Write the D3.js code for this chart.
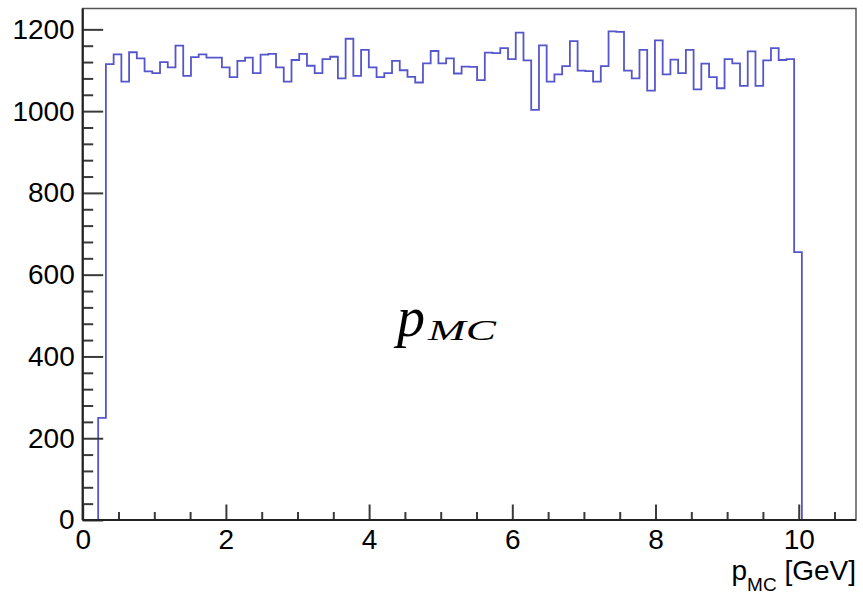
<!DOCTYPE html>
<html>
<head>
<meta charset="utf-8">
<script src="https://cdn.jsdelivr.net/npm/d3@7"></script>
<style>
  body { margin: 0; background: #fff; }
  svg { display: block; }
  .tick text { font-family: "Liberation Sans", Arial, Helvetica, sans-serif; font-size: 28px; fill: #000; }
</style>
</head>
<body>
<svg id="chart" width="863" height="596"></svg>
<script>
// histogram binning (ROOT style TH1: nBins from xMin to xMax)
var xMin = 0, xMax = 10.8, nBins = 100
// bin contents, bin 0 .. bin 99
var counts = [
  0, 0, 250, 1115, 1139, 1072, 1144, 1129, 1097, 1093,
  1120, 1107, 1160, 1086, 1132, 1139, 1131, 1131, 1107, 1083,
  1123, 1131, 1093, 1138, 1140, 1107, 1072, 1125, 1140, 1111,
  1093, 1127, 1133, 1080, 1177, 1086, 1150, 1107, 1083, 1093,
  1123, 1100, 1084, 1070, 1117, 1147, 1117, 1129, 1092, 1109,
  1108, 1076, 1143, 1142, 1154, 1127, 1192, 1124, 1003, 1161,
  1072, 1090, 1110, 1171, 1099, 1098, 1072, 1110, 1195, 1194,
  1099, 1080, 1150, 1050, 1173, 1090, 1126, 1093, 1150, 1053,
  1116, 1083, 1056, 1127, 1117, 1062, 1146, 1062, 1124, 1154,
  1125, 1127, 655, 0, 0, 0, 0, 0, 0, 0
]
var yMax = 1251
var xMajor = [0, 2, 4, 6, 8, 10]
var xMinor = [0.5, 1, 1.5, 2.5, 3, 3.5, 4.5, 5, 5.5, 6.5, 7, 7.5, 8.5, 9, 9.5, 10.5]
var yMajor = [0, 200, 400, 600, 800, 1000, 1200]
var yMinor = [40, 80, 120, 160, 240, 280, 320, 360, 440, 480, 520, 560,
              640, 680, 720, 760, 840, 880, 920, 960, 1040, 1080, 1120, 1160]

function draw() {
    var svg = d3.select('#chart')
    var fl = 82.7, fr = 856, ft = 8.5, fb = 520

    var x = d3.scaleLinear().domain([xMin, xMax]).range([fl, fr])
    var y = d3.scaleLinear().domain([0, yMax]).range([fb, ft])
    var bw = (xMax - xMin) / nBins

    // histogram outline
    var pts = counts.map((c, i) => [xMin + i * bw, c])
    pts.push([xMax, counts[counts.length - 1]])
    var line = d3.line()
        .x(d => x(d[0]))
        .y(d => y(d[1]))
        .curve(d3.curveStepAfter)

    svg.append('path')
        .datum(pts)
        .attr('d', line)
        .attr('fill', 'none')
        .attr('stroke', '#5656cc')
        .attr('stroke-width', 1.8)

    // axes, ticks inside the frame
    function styleTicks(g) {
        g.select('.domain').remove()
        g.selectAll('.tick line').attr('stroke', '#3a3a3a').attr('stroke-width', 2)
    }

    svg.append('g')
        .attr('transform', 'translate(0,' + fb + ')')
        .call(d3.axisBottom(x).tickValues(xMinor).tickSize(-8).tickFormat(''))
        .call(styleTicks)
    svg.append('g')
        .attr('transform', 'translate(0,' + fb + ')')
        .call(d3.axisBottom(x).tickValues(xMajor).tickSize(-15.5).tickPadding(9).tickFormat(d3.format('d')))
        .call(styleTicks)

    svg.append('g')
        .attr('transform', 'translate(' + fl + ',0)')
        .call(d3.axisLeft(y).tickValues(yMinor).tickSize(-10.5).tickFormat(''))
        .call(styleTicks)
    svg.append('g')
        .attr('transform', 'translate(' + fl + ',0)')
        .call(d3.axisLeft(y).tickValues(yMajor).tickSize(-20.5).tickPadding(8).tickFormat(d3.format('d')))
        .call(styleTicks)

    // frame
    svg.append('rect')
        .attr('x', fl).attr('y', ft)
        .attr('width', fr - fl).attr('height', fb - ft)
        .attr('fill', 'none')
        .attr('stroke', '#555')
        .attr('stroke-width', 1.5)
    svg.append('line')
        .attr('x1', fl).attr('x2', fr).attr('y1', fb).attr('y2', fb)
        .attr('stroke', '#222').attr('stroke-width', 2.2)
    svg.append('line')
        .attr('x1', fl).attr('x2', fl).attr('y1', ft).attr('y2', fb)
        .attr('stroke', '#222').attr('stroke-width', 2.2)

    // x axis title
    var title = svg.append('text')
        .attr('x', fr).attr('y', 580)
        .attr('text-anchor', 'end')
        .style('font-family', '"Liberation Sans", Arial, Helvetica, sans-serif')
        .style('font-size', '28px')
    title.append('tspan').style('font-size', '28px').text('p')
    title.append('tspan').attr('dy', 11).style('font-size', '19px').text('MC')
    title.append('tspan').attr('dy', -11).style('font-size', '28px').text(' [GeV]')

    // big label in the middle
    var lbl = svg.append('text')
        .attr('x', 397).attr('y', 336)
        .style('font-family', '"Liberation Serif", "DejaVu Serif", serif')
        .style('font-style', 'italic')
        .style('font-size', '56px')
    lbl.append('tspan').text('p')
    lbl.append('tspan').attr('dy', 4).attr('dx', 3)
        .attr('textLength', 68).attr('lengthAdjust', 'spacingAndGlyphs')
        .style('font-size', '29px').text('MC')
}
draw()
</script>
</body>
</html>
